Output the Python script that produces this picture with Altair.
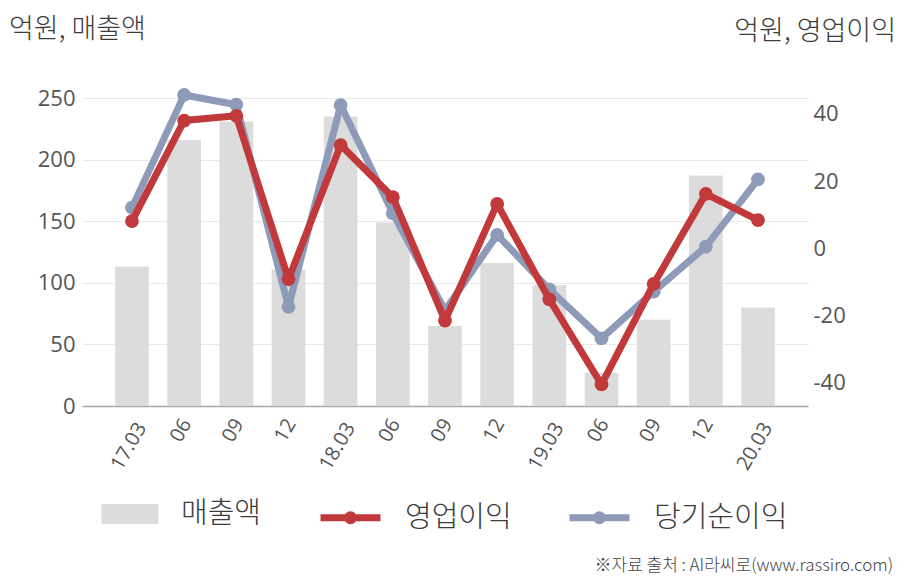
import json
import altair as alt
import pandas as pd

# ---------------- data ----------------
periods = ["2017.03", "2017.06", "2017.09", "2017.12", "2018.03", "2018.06", "2018.09",
           "2018.12", "2019.03", "2019.06", "2019.09", "2019.12", "2020.03"]
tick_labels = ["17.03", "06", "09", "12", "18.03", "06", "09", "12", "19.03", "06", "09", "12", "20.03"]
sales = [113, 216, 231, 111, 235, 149, 65, 116, 98, 27, 70, 187, 80]            # 매출액 (억원)
op_income = [8.1, 38.0, 39.4, -9.2, 30.7, 15.2, -21.5, 13.2, -15.2, -40.5, -10.6, 16.2, 8.4]   # 영업이익
net_income = [12.1, 45.6, 42.7, -17.4, 42.6, 10.4, -18.5, 4.0, -12.2, -26.8, -12.9, 0.5, 20.5]  # 당기순이익
series_names = ["매출액", "영업이익", "당기순이익"]
series_colors = ["#dcdcdc", "#c1393b", "#8d9ab8"]
left_ticks = [0, 50, 100, 150, 200, 250]
right_ticks = [-40, -20, 0, 20, 40]
left_title = "억원, 매출액"
right_title = "억원, 영업이익"
source_text = "※자료 출처 : AI라씨로(www.rassiro.com)"

df_bar = pd.DataFrame({"period": periods, "value": sales, "series": series_names[0]})
df_lines = pd.concat([
    pd.DataFrame({"period": periods, "value": op_income, "series": series_names[1]}),
    pd.DataFrame({"period": periods, "value": net_income, "series": series_names[2]}),
])

KFONT = "Noto Sans CJK KR"
NFONT = "Open Sans"
TXT = "#3c3c3c"
KW = 300

per_js = json.dumps(periods, ensure_ascii=False)
lab_js = json.dumps(tick_labels, ensure_ascii=False)

x_axis = alt.Axis(
    title=None,
    labelExpr=f"{lab_js}[indexof({per_js}, datum.value)]",
    labelAngle=300,
    labelAlign="center",
    labelBaseline="middle",
    labelPadding={"condition": {"test": f"length({lab_js}[indexof({per_js}, datum.value)]) > 2", "value": 40},
                  "value": 24},
    labelOffset=-3,
    labelFont=NFONT, labelFontSize=20, labelColor="#555555",
    ticks=False, domain=True, domainColor="#a8a8a8", domainWidth=1.5, grid=False,
)
x_enc = alt.X("period:N", sort=periods,
              scale=alt.Scale(paddingInner=0.354, paddingOuter=0.635),
              axis=x_axis)

bar_color_scale = alt.Scale(domain=series_names[:1], range=series_colors[:1])
line_color_scale = alt.Scale(domain=series_names[1:], range=series_colors[1:])

rect_path = "M-0.95,-0.333H0.95V0.333H-0.95Z"
line_path = "M-1.0,0H1.0 M0.1,0A0.1,0.1,0,1,1,-0.1,0A0.1,0.1,0,1,1,0.1,0"

common_legend = dict(
    title=None, orient="none", direction="horizontal", padding=0,
    symbolSize=3600, labelOffset=21,
    labelFont=KFONT, labelFontSize=29, labelFontWeight=KW, labelColor=TXT, labelLimit=300,
)
bar_legend = alt.Legend(legendX=18, legendY=386, symbolType=rect_path, columnPadding=54,
                        symbolStrokeWidth=0, symbolOpacity=1, **common_legend)
line_legend = alt.Legend(legendX=235, legendY=386, symbolType=line_path, columnPadding=43,
                         symbolStrokeWidth=7, symbolOpacity=1, **common_legend)

bars = alt.Chart(df_bar).mark_bar(color=series_colors[0]).encode(
    x=x_enc,
    y=alt.Y("value:Q",
            scale=alt.Scale(domain=[0, 250], nice=False, zero=True),
            axis=alt.Axis(title=None, orient="left", values=left_ticks, grid=True,
                          gridColor="#e9e9e9", gridWidth=1, domain=False, ticks=False,
                          labelFont=NFONT, labelFontSize=22, labelColor="#555555",
                          labelPadding=7)),
    color=alt.Color("series:N", scale=bar_color_scale, legend=bar_legend),
)

right_axis = alt.Axis(title=None, orient="right", values=right_ticks, grid=False,
                      domain=False, ticks=False, labelFont=NFONT, labelFontSize=22,
                      labelColor="#555555", labelPadding=5,
                      labelExpr="datum.value < 0 ? '-' + abs(datum.value) : '' + datum.value")
y2_scale = alt.Scale(domain=[-46.9, 44.7], nice=False, zero=False)


def line_layer(name):
    return alt.Chart(df_lines).transform_filter(alt.datum.series == name).mark_line(
        strokeWidth=7, strokeJoin="round",
        point=alt.OverlayMarkDef(size=190, filled=True, opacity=1),
    ).encode(
        x=x_enc,
        y=alt.Y("value:Q", scale=y2_scale, axis=right_axis),
        color=alt.Color("series:N", scale=line_color_scale, legend=line_legend),
    )


lines = alt.layer(line_layer(series_names[2]), line_layer(series_names[1]))


def text_layer(t, x, y, align, size, color=TXT):
    return alt.Chart(pd.DataFrame({"t": [t]})).mark_text(
        align=align, baseline="middle", font=KFONT, fontSize=size, fontWeight=KW, color=color
    ).encode(text="t:N", x=alt.value(x), y=alt.value(y))


chart = alt.layer(
    bars, lines,
    text_layer(left_title, -73, -68, "left", 27),
    text_layer(right_title, 814, -66, "right", 27),
    text_layer(source_text, 811, 468, "right", 17, "#444444"),
).resolve_scale(y="independent", color="independent").properties(
    width=726, height=308,
    autosize=alt.AutoSizeParams(type="none"),
    padding={"left": 82, "top": 98, "right": 100, "bottom": 174},
).configure_view(stroke=None)

chart.save("out.html", embed_options={"renderer": "svg", "actions": False})
